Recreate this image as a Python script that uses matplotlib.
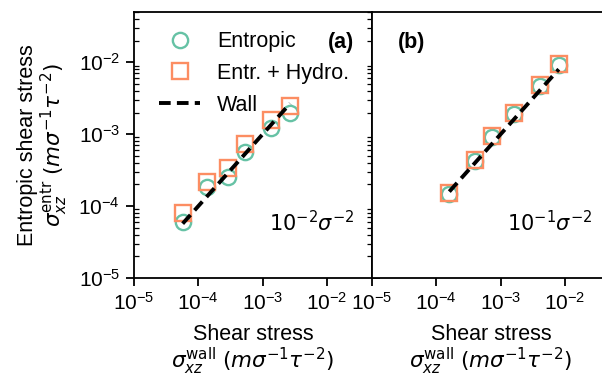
import numpy as np
import matplotlib
matplotlib.use("Agg")
import matplotlib.pyplot as plt
from matplotlib.ticker import LogLocator, NullLocator, NullFormatter

plt.rcParams['font.family'] = ['Liberation Sans', 'DejaVu Sans']
plt.rcParams['mathtext.fontset'] = 'dejavusans'

# panel (a): 10^-2 sigma^-2
wall_a = [5.7e-5, 1.35e-4, 2.93e-4, 5.3e-4, 1.34e-3, 2.67e-3]
entr_a = [6.1e-5, 1.86e-4, 2.56e-4, 5.7e-4, 1.21e-3, 1.95e-3]
hydro_a = [8.1e-5, 2.18e-4, 3.36e-4, 7.3e-4, 1.57e-3, 2.47e-3]

# panel (b): 10^-1 sigma^-2
wall_b = [1.59e-4, 4.05e-4, 7.3e-4, 1.61e-3, 4.1e-3, 8.0e-3]
entr_b = [1.45e-4, 4.2e-4, 9.0e-4, 1.92e-3, 4.7e-3, 9.1e-3]
hydro_b = [1.51e-4, 4.37e-4, 9.4e-4, 1.99e-3, 4.83e-3, 9.4e-3]

green = '#66c2a5'
orange = '#fc8d62'

fig = plt.figure(figsize=(6.02, 3.77), dpi=100)
W, H = 602, 377
ax1 = fig.add_axes([134 / W, (H - 278) / H, 238 / W, 266 / H])
ax2 = fig.add_axes([372 / W, (H - 278) / H, 238 / W, 266 / H])

panels = [(ax1, wall_a, entr_a, hydro_a, r'$10^{-2}\sigma^{-2}$'),
          (ax2, wall_b, entr_b, hydro_b, r'$10^{-1}\sigma^{-2}$')]

for ax, w, e, h, lab in panels:
    ax.set_xscale('log')
    ax.set_yscale('log')
    ax.plot(w, e, 'o', ms=11, mfc='white', mec=green, mew=1.7, label='Entropic', zorder=2)
    ax.plot(w, h, 's', ms=12, mfc='none', mec=orange, mew=1.7, label='Entr. + Hydro.', zorder=3)
    ax.plot(w, w, '--', color='black', lw=2.8, dashes=(3, 1.6), label='Wall', zorder=4)
    ax.set_xlim(1e-5, 5e-2)
    ax.set_ylim(1e-5, 5e-2)
    ax.xaxis.set_major_locator(LogLocator(base=10, numticks=10))
    ax.xaxis.set_minor_locator(NullLocator())
    ax.tick_params(axis='x', which='major', direction='out', length=6, width=1.3,
                   labelsize=15, pad=4)
    ax.tick_params(axis='y', which='major', direction='out', length=6, width=1.3,
                   labelsize=15, left=True, right=True, pad=4)
    ax.tick_params(axis='y', which='minor', direction='in', length=3.5, width=0.9,
                   left=True, right=True)
    for s in ax.spines.values():
        s.set_linewidth(1.3)
    ax.set_xlabel('Shear stress\n' + r'$\sigma_{xz}^{\rm wall}$ $(m\sigma^{-1}\tau^{-2})$',
                  fontsize=15.5, linespacing=1.05, labelpad=7)
    ax.text(0.925, 0.21, lab, transform=ax.transAxes, ha='right', va='center', fontsize=15)

ax1.text(0.925, 0.885, '(a)', transform=ax1.transAxes, ha='right', va='center',
         fontsize=15.5, fontweight='bold')
ax2.text(0.11, 0.885, '(b)', transform=ax2.transAxes, ha='left', va='center',
         fontsize=15.5, fontweight='bold')

ax1.set_ylabel('Entropic shear stress\n' + r'$\sigma_{xz}^{\rm entr}$ $(m\sigma^{-1}\tau^{-2})$',
               fontsize=15.5, linespacing=1.05, labelpad=6)
ax2.tick_params(axis='y', which='both', left=False, right=False, labelleft=False)

ax1.legend(loc='upper left', bbox_to_anchor=(0.07, 0.96), fontsize=15.5, frameon=False,
           handlelength=1.9, borderaxespad=0, labelspacing=0.5, handletextpad=0.8)

fig.savefig('out.png', dpi=100)
